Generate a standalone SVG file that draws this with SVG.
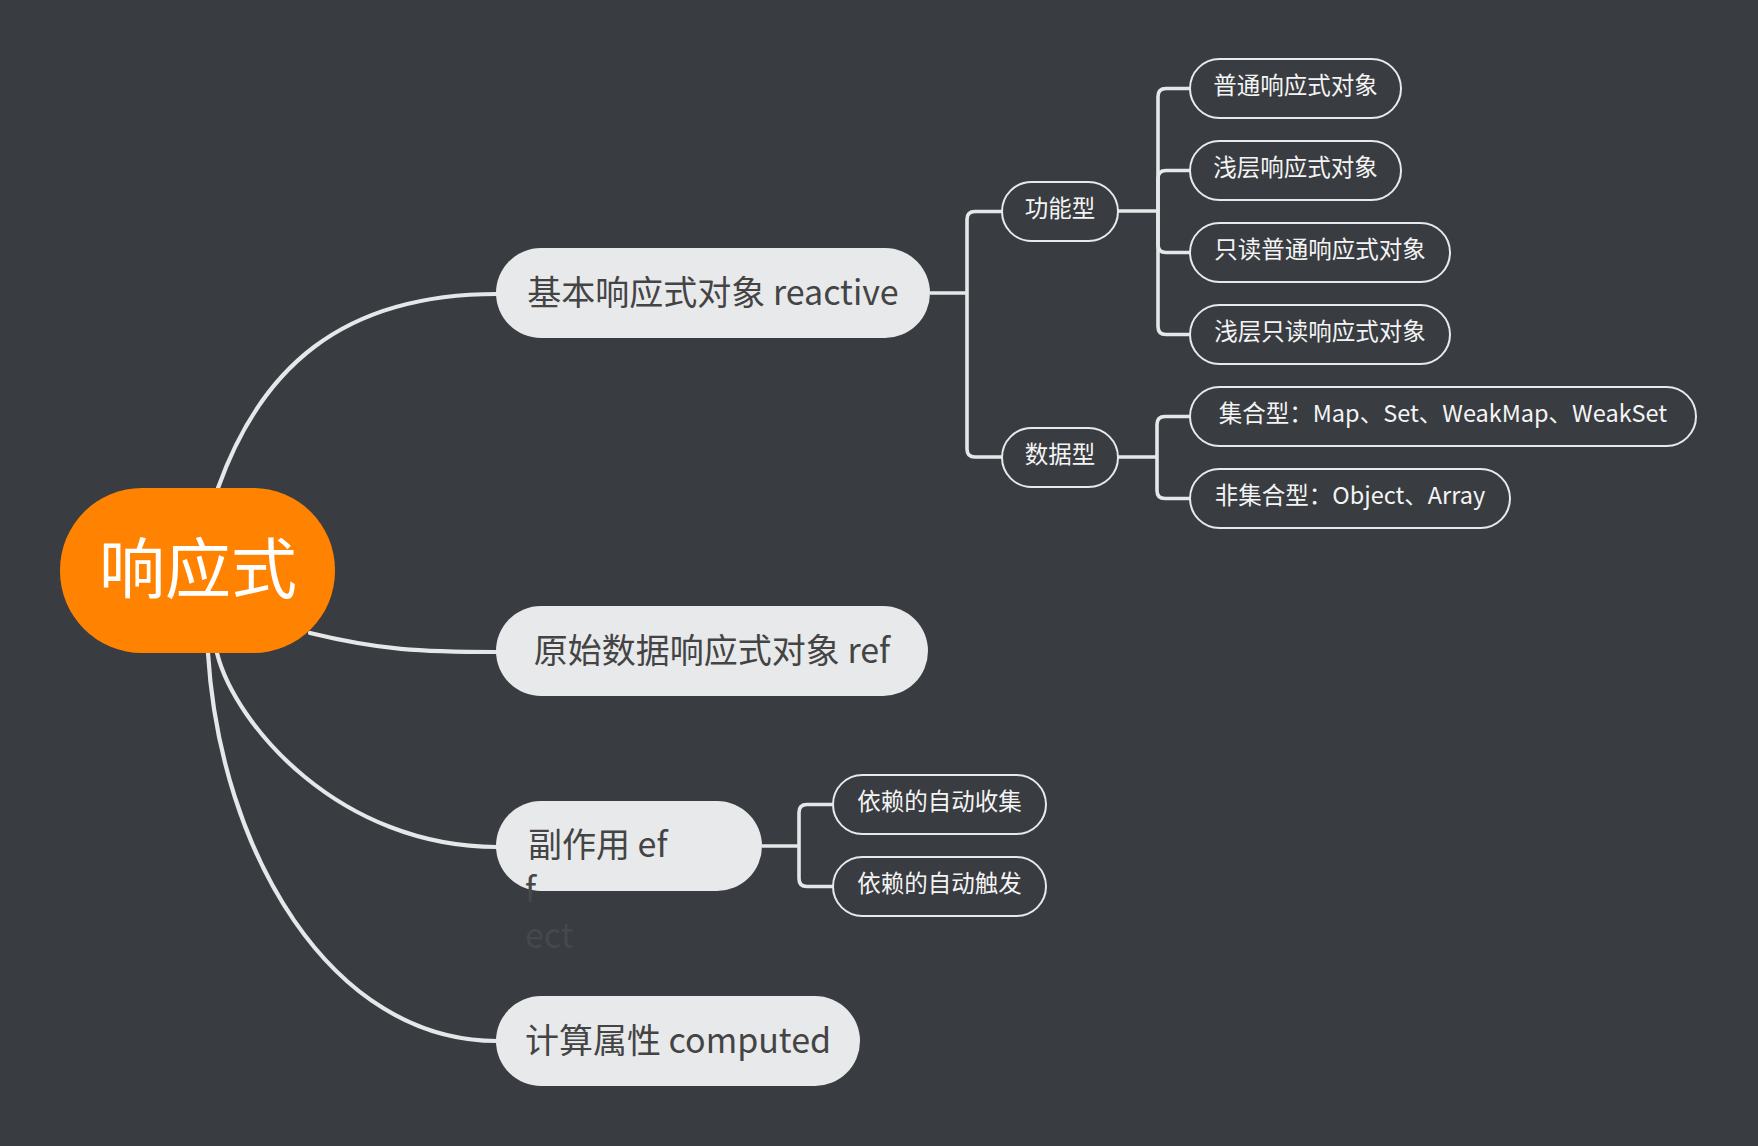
<svg xmlns="http://www.w3.org/2000/svg" width="1758" height="1146" viewBox="0 0 1758 1146">
<style>
.bg{fill:#393c41}
.curve{fill:none;stroke:#e6e7e9;stroke-width:4.2;stroke-linecap:round}
.elbow{fill:none;stroke:#e6e7e9;stroke-width:3.6}
.main rect{fill:#e8e9eb}
.main text{font-family:"Noto Sans CJK SC","Liberation Sans",sans-serif;font-size:34px;fill:#444444;text-anchor:middle}
.main text.lt{text-anchor:start}
.main text.spill{text-anchor:start;fill:#46484c}
.sub rect{fill:#393c41;stroke:#e8e9eb;stroke-width:2}
.sub text{font-family:"Noto Sans CJK SC","Liberation Sans",sans-serif;font-size:23.5px;fill:#f4f4f4;text-anchor:middle}
.root text{font-family:"Noto Sans CJK SC",sans-serif;font-size:66px;fill:#ffffff;text-anchor:middle}
</style>
<rect class="bg" x="0" y="0" width="1758" height="1146"/>
<g id="connectors">
<path class="curve" d="M218,488 C260,370 340,294 497,294"/>
<path class="curve" d="M310,633 C380,650 420,652 497,652"/>
<path class="curve" d="M217,653 C235,725 340,847 497,847"/>
<path class="curve" d="M208,653 C220,850 330,1041 497,1041"/>
<path class="elbow" d="M930,293 H967"/>
<path class="elbow" d="M1002,211.5 H975 Q967,211.5 967,219.5 V449 Q967,457 975,457 H1002"/>
<path class="elbow" d="M1118,211 H1158"/>
<path class="elbow" d="M1158,211 V96.5 Q1158,88.5 1166,88.5 H1190"/>
<path class="elbow" d="M1158,211 V178.5 Q1158,170.5 1166,170.5 H1190"/>
<path class="elbow" d="M1158,211 V244.5 Q1158,252.5 1166,252.5 H1190"/>
<path class="elbow" d="M1158,211 V326.5 Q1158,334.5 1166,334.5 H1190"/>
<path class="elbow" d="M1118,457 H1157"/>
<path class="elbow" d="M1157,457 V424.5 Q1157,416.5 1165,416.5 H1190"/>
<path class="elbow" d="M1157,457 V490.5 Q1157,498.5 1165,498.5 H1190"/>
<path class="elbow" d="M762,846 H799"/>
<path class="elbow" d="M799,846 V812.5 Q799,804.5 807,804.5 H833"/>
<path class="elbow" d="M799,846 V878.5 Q799,886.5 807,886.5 H833"/>
</g>
<g id="root" class="root">
<rect x="60" y="488" width="275" height="165" rx="82" fill="#ff8300"/>
<text x="198" y="593">响应式</text>
</g>
<g id="n-reactive" class="main">
<rect x="496" y="248" width="434" height="90" rx="45"/>
<text x="713" y="305">基本响应式对象 reactive</text>
</g>
<g id="n-ref" class="main">
<rect x="496" y="606" width="432" height="90" rx="45"/>
<text x="712" y="663">原始数据响应式对象 ref</text>
</g>
<g id="n-effect" class="main">
<rect x="496" y="801" width="266" height="90" rx="45"/>
<text class="lt" x="528" y="857">副作用 ef</text>
<text class="spill" x="525" y="902">f</text>
<text class="spill" x="525" y="948">ect</text>
</g>
<g id="n-computed" class="main">
<rect x="496" y="996" width="364" height="90" rx="45"/>
<text x="678" y="1053">计算属性 computed</text>
</g>
<g id="n-func" class="sub">
<rect x="1002" y="182" width="116" height="59" rx="29.5"/>
<text x="1060" y="217">功能型</text>
</g>
<g id="n-data" class="sub">
<rect x="1002" y="428" width="116" height="59" rx="29.5"/>
<text x="1060" y="463">数据型</text>
</g>
<g id="n-c1" class="sub">
<rect x="1190" y="59" width="211" height="59" rx="29.5"/>
<text x="1295.5" y="94">普通响应式对象</text>
</g>
<g id="n-c2" class="sub">
<rect x="1190" y="141" width="211" height="59" rx="29.5"/>
<text x="1295.5" y="176">浅层响应式对象</text>
</g>
<g id="n-c3" class="sub">
<rect x="1190" y="223" width="260" height="59" rx="29.5"/>
<text x="1320" y="258">只读普通响应式对象</text>
</g>
<g id="n-c4" class="sub">
<rect x="1190" y="305" width="260" height="59" rx="29.5"/>
<text x="1320" y="340">浅层只读响应式对象</text>
</g>
<g id="n-d1" class="sub">
<rect x="1190" y="387" width="506" height="59" rx="29.5"/>
<text x="1443" y="422">集合型：Map、Set、WeakMap、WeakSet</text>
</g>
<g id="n-d2" class="sub">
<rect x="1190" y="469" width="320" height="59" rx="29.5"/>
<text x="1350" y="504">非集合型：Object、Array</text>
</g>
<g id="n-e1" class="sub">
<rect x="833" y="775" width="213" height="59" rx="29.5"/>
<text x="939.5" y="810">依赖的自动收集</text>
</g>
<g id="n-e2" class="sub">
<rect x="833" y="857" width="213" height="59" rx="29.5"/>
<text x="939.5" y="892">依赖的自动触发</text>
</g>
</svg>
